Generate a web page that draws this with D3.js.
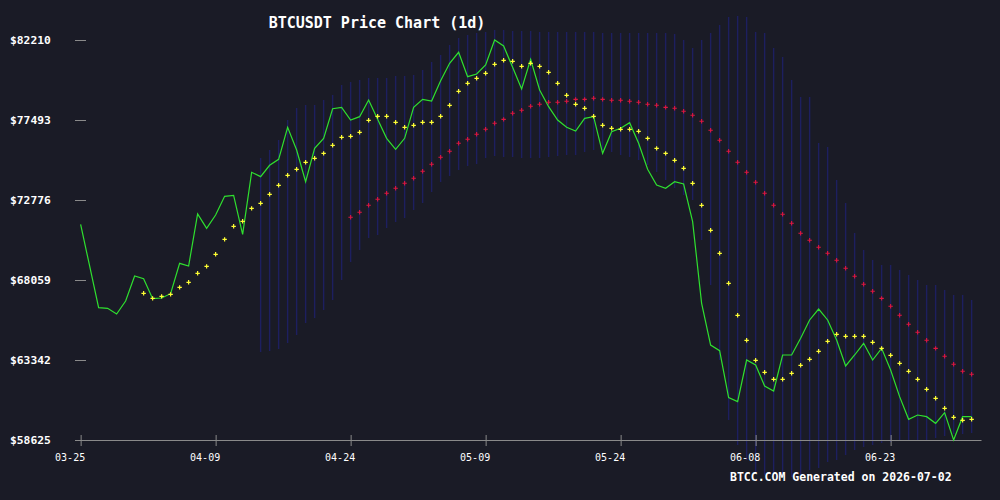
<!DOCTYPE html>
<html>
<head>
<meta charset="utf-8">
<script src="https://cdn.jsdelivr.net/npm/d3@7"></script>
<style>
  html, body { margin: 0; padding: 0; background: #1a1b26; }
  svg { display: block; }
</style>
</head>
<body>
<div id="container"></div>
<script>
/* CONSTANTS AND GLOBALS */
const width = 1000;
const height = 500;
const margin = ({top: 40, right: 19, bottom: 60, left: 75});

/* DATA */
const startDate = new Date(Date.UTC(2026, 2, 25));
const endDate = new Date(Date.UTC(2026, 6, 2));
const tickLabels = ["03-25", "04-09", "04-24", "05-09", "05-24", "06-08", "06-23"];
const yTicks = [58625, 63342, 68059, 72776, 77493, 82210];

// daily close
const prices = [
  71343, 68885, 66426, 66387, 66054, 66821, 68295, 68138, 66958, 66998,
  67252, 69043, 68885, 71950, 71107, 71891, 72994, 73053, 70754, 74409,
  74153, 74822, 75176, 77063, 75724, 73855, 75822, 76412, 78159, 78240,
  77493, 77689, 78672, 77532, 76412, 75763, 76412, 78240, 78712, 78613,
  79812, 80836, 81484, 80048, 80205, 80736, 82210, 81856, 80600, 79320,
  81072, 79262, 78279, 77493, 77061, 76844, 77592, 77688, 75528, 76805,
  77002, 77336, 76119, 74585, 73660, 73464, 73856, 73719, 71498, 66684,
  64226, 63892, 61121, 60885, 63342, 63047, 61809, 61514, 63637, 63637,
  64620, 65701, 66349, 65701, 64521, 62988, 63637, 64325, 63342, 64030,
  62752, 61180, 59843, 60099, 60001, 59608, 60236, 58625, 60001, 60001
];

// short moving average (yellow), starts at day index 7
const maShortStart = 7;
const maShort = [
  67275, 66978, 67096, 67214, 67627, 67922, 68453, 68865, 69573, 70457,
  71224, 71519, 72285, 72580, 73111, 73642, 74232, 74585,
  74998, 75234, 75528, 76001, 76472, 76531, 76767, 77475, 77711, 77711,
  77357, 77062, 77180, 77357, 77357, 77711, 78359, 79185, 79657, 79951,
  80246, 80777, 81013, 80954, 80659,
  80836, 80659, 80305, 79657, 78949, 78418, 78183, 77711, 77180, 77003,
  76945, 76945, 76826, 76412, 75822, 75528, 75116, 74645, 73760, 72463,
  70989, 69633, 67864, 65977, 64503,
  63324, 62617, 62204, 62204, 62558, 63029, 63383, 63855, 64445, 64857,
  64739, 64739, 64739, 64386, 64030, 63619, 63147, 62676, 62204, 61614,
  61084, 60494, 59963, 59786, 59845
];

// long moving average (red), starts at day index 30
const maLongStart = 30;
const maLong = [
  71756, 72051, 72463, 72817, 73171, 73466, 73760, 74056, 74468, 74881,
  75294, 75647, 76119, 76355, 76650, 76945, 77298, 77532, 77888, 78065,
  78301, 78418, 78537, 78537, 78595, 78712, 78712, 78772, 78712, 78654,
  78654, 78595, 78537, 78418, 78359, 78240, 78183, 78006, 77770, 77416,
  76886, 76296, 75647, 74998, 74409,
  73820, 73171, 72463, 71933, 71402, 70812, 70400, 69987, 69633, 69220,
  68749, 68277, 67805, 67393, 66978, 66508, 65977, 65447, 64975, 64503,
  64030, 63560, 63088, 62676, 62499
];

// band (blue verticals), starts at day index 20
const bandStart = 20;
const bandUpper = [
  75252, 75724, 76314, 77493, 78201, 78377, 78377, 78672, 78967, 79557,
  79733, 79852, 79969, 79969, 79969, 80087, 80087, 80147, 80441, 80913,
  81326, 81915, 82328, 82505, 82623, 82682, 82800, 82800, 82741, 82741,
  82741, 82682, 82682, 82682, 82682, 82682, 82682, 82682, 82623, 82623,
  82623, 82623, 82623, 82623, 82623, 82623, 82564, 82210, 81738, 82210,
  82623, 83094, 83566, 83625, 83566, 82682, 82623, 81738, 81208, 79852,
  78849, 78849, 76137, 75901, 73955, 72599, 70830, 69828, 69238, 68943,
  68943, 68649, 68354, 68059, 67764, 67764, 67469, 67175, 67175, 66880
];
const bandLower = [
  63814, 63873, 63991, 64344, 64816, 65524, 65818, 66290, 66880, 68059,
  69120, 69828, 70535, 70712, 71125, 71479, 71715, 72186, 72599, 73248,
  73837, 74191, 74545, 74781, 74899, 75252, 75370, 75311, 75311, 75252,
  75252, 75252, 75311, 75370, 75429, 75429, 75606, 75724, 75724, 75606,
  75429, 75311, 75135, 74840, 74427, 73955, 73484, 73071, 72776, 70418,
  67764, 63342, 59804, 58330, 57446, 56738, 56561, 56561, 56443, 56443,
  56561, 56856, 56974, 57328, 57446, 57741, 58035, 58212, 58330, 58448,
  58507, 58625, 58625, 58625, 58625, 58743, 58861, 58979, 58979, 59038
];

const dates = d3.utcDay.range(startDate, d3.utcDay.offset(endDate, 1));
const fmt = d3.utcFormat("%m-%d");
const tickDates = dates.filter(d => tickLabels.includes(fmt(d)));

/* SCALES */
const xScale = d3.scaleUtc()
  .domain([d3.utcHour.offset(startDate, -15), d3.utcHour.offset(endDate, 25)])
  .range([margin.left, width - margin.right]);

const yScale = d3.scaleLinear()
  .domain([d3.min(prices), d3.max(prices)])
  .range([height - margin.bottom, margin.top]);

/* HTML ELEMENTS */
const svg = d3.select("#container")
  .append("svg")
  .attr("width", width)
  .attr("height", height)
  .attr("viewBox", [0, 0, width, height]);

svg.append("rect")
  .attr("width", width)
  .attr("height", height)
  .attr("fill", "#1a1b26");

// band as vertical lines
svg.append("g")
  .selectAll("line")
  .data(bandUpper.map((u, i) => ({date: dates[bandStart + i], hi: u, lo: bandLower[i]})))
  .join("line")
  .attr("x1", d => xScale(d.date))
  .attr("x2", d => xScale(d.date))
  .attr("y1", d => yScale(d.hi))
  .attr("y2", d => yScale(d.lo))
  .attr("stroke", "#1d1f60")
  .attr("stroke-width", 1.4);

// axes
const xAxis = d3.axisBottom(xScale)
  .tickValues(tickDates)
  .tickFormat(fmt)
  .tickSizeOuter(0);

const gx = svg.append("g")
  .attr("transform", `translate(0, ${height - margin.bottom})`)
  .call(xAxis);
gx.select(".domain").attr("stroke", "#8a8a8a");
gx.selectAll(".tick line")
  .attr("stroke", "#8a8a8a")
  .attr("y1", -5)
  .attr("y2", 6);
gx.selectAll(".tick text")
  .attr("fill", "#ffffff")
  .attr("font-family", "'DejaVu Sans Mono', monospace")
  .attr("font-size", "10px")
  .attr("dx", -11)
  .attr("y", 21)
  .attr("dy", 0);

const yAxis = d3.axisLeft(yScale)
  .tickValues(yTicks)
  .tickFormat(d => "$" + d)
  .tickSize(11);

const gy = svg.append("g")
  .attr("transform", `translate(${margin.left + 11}, 0)`)
  .call(yAxis);
gy.select(".domain").remove();
gy.selectAll(".tick line").attr("stroke", "#8a8a8a");
gy.selectAll(".tick text")
  .attr("fill", "#ffffff")
  .attr("font-family", "'DejaVu Sans Mono', monospace")
  .attr("font-weight", "bold")
  .attr("font-size", "11.3px")
  .attr("text-anchor", "start")
  .attr("x", -76);

// price line
const line = d3.line()
  .x((d, i) => xScale(dates[i]))
  .y(d => yScale(d));

svg.append("path")
  .datum(prices)
  .attr("fill", "none")
  .attr("stroke", "#2fe02f")
  .attr("stroke-width", 1.2)
  .attr("d", line);

// moving averages as small crosses
const cross = "M-2.2,0H2.2M0,-2.2V2.2";

svg.append("g")
  .selectAll("path")
  .data(maShort.map((v, i) => ({date: dates[maShortStart + i], v})))
  .join("path")
  .attr("d", cross)
  .attr("transform", d => `translate(${xScale(d.date)}, ${yScale(d.v)})`)
  .attr("stroke", "#ffff33")
  .attr("stroke-width", 1.2);

svg.append("g")
  .selectAll("path")
  .data(maLong.map((v, i) => ({date: dates[maLongStart + i], v})))
  .join("path")
  .attr("d", cross)
  .attr("transform", d => `translate(${xScale(d.date)}, ${yScale(d.v)})`)
  .attr("stroke", "#e0163f")
  .attr("stroke-width", 1.1);

// title + footer
svg.append("text")
  .attr("x", 377)
  .attr("y", 28)
  .attr("text-anchor", "middle")
  .attr("fill", "#ffffff")
  .attr("font-family", "'DejaVu Sans Mono', monospace")
  .attr("font-weight", "bold")
  .attr("font-size", "15px")
  .text("BTCUSDT Price Chart (1d)");

svg.append("text")
  .attr("x", 730)
  .attr("y", 481)
  .attr("fill", "#ffffff")
  .attr("font-family", "'DejaVu Sans Mono', monospace")
  .attr("font-weight", "bold")
  .attr("font-size", "11.5px")
  .text("BTCC.COM Generated on 2026-07-02");
</script>
</body>
</html>
